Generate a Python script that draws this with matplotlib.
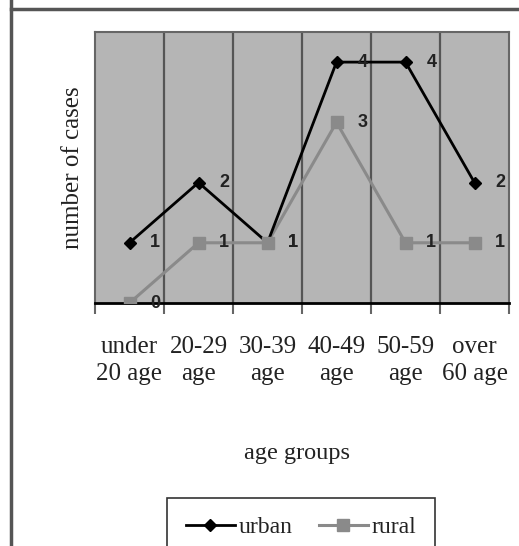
import matplotlib
matplotlib.use("Agg")
import matplotlib.pyplot as plt
from matplotlib.lines import Line2D
import numpy as np

# data
age_groups = ["under\n20 age", "20-29\nage", "30-39\nage", "40-49\nage", "50-59\nage", "over\n60 age"]
urban = [1, 2, 1, 4, 4, 2]
rural = [0, 1, 1, 3, 1, 1]

serif = ["Liberation Serif", "DejaVu Serif"]
txt_col = "#222222"

fig = plt.figure(figsize=(5.19, 5.46), dpi=100)
ax = fig.add_axes([95 / 519, 1 - 303 / 546, (509 - 95) / 519, (303 - 32) / 546])
ax.set_facecolor("#b5b5b5")

x = np.arange(len(age_groups))
ax.set_xlim(-0.5, len(age_groups) - 0.5)
ax.set_ylim(0, 4.5)

# category separators
for b in np.arange(0.5, len(age_groups) - 0.5, 1):
    ax.axvline(b, color="#555555", lw=1.6, zorder=1)

# series
ax.plot(x, rural, color="#8a8a8a", lw=2.2, zorder=2)
ax.plot(x, urban, color="black", lw=2.0, marker="D", markersize=6, zorder=3)
ax.plot(x, rural, color="#8a8a8a", lw=0, marker="s", markersize=8, zorder=4)

for series in (urban, rural):
    for xi, v in zip(x, series):
        ax.annotate(str(v), (xi, v), xytext=(15, 0), textcoords="offset points",
                    ha="left", va="center", fontsize=13, fontweight="bold",
                    family=["Liberation Sans", "DejaVu Sans"], color="#222222", zorder=5)

# axes frame
for s in ["top", "left", "right"]:
    ax.spines[s].set_color("#666666")
    ax.spines[s].set_linewidth(1.5)
ax.spines["bottom"].set_color("black")
ax.spines["bottom"].set_linewidth(2)

ax.set_yticks([])
ax.set_xticks(x)
ax.set_xticklabels(age_groups, family=serif, fontsize=18, color=txt_col, linespacing=1.3)
ax.tick_params(axis="x", which="major", length=0, pad=24)
ax.set_xticks(np.arange(-0.5, len(age_groups), 1), minor=True)
ax.tick_params(axis="x", which="minor", length=8, width=1.5, color="#666666")

ax.set_ylabel("number of cases", family=serif, fontsize=18, color=txt_col, labelpad=8)
fig.text(297 / 519, 1 - 453 / 546, "age groups", family=serif, fontsize=17.5,
         color=txt_col, ha="center", va="center")

handles = [
    Line2D([], [], color="black", lw=2.0, marker="D", markersize=6),
    Line2D([], [], color="#8a8a8a", lw=2.2, marker="s", markersize=8),
]
leg = fig.legend(handles, ["urban", "rural"], loc="upper center",
                 bbox_to_anchor=(301 / 519, 1 - 498 / 546), ncol=2,
                 prop={"family": serif, "size": 17}, frameon=True, fancybox=False,
                 edgecolor="black", handlelength=2.1, handletextpad=0.15,
                 columnspacing=1.1, borderpad=0.78, borderaxespad=0)
leg.get_frame().set_linewidth(1.2)
for t in leg.get_texts():
    t.set_color(txt_col)

# outer frame lines of the original figure
fig.add_artist(Line2D([11 / 519, 11 / 519], [0, 1], transform=fig.transFigure,
                      color="#555555", lw=2.5))
fig.add_artist(Line2D([11 / 519, 1], [1 - 9 / 546, 1 - 9 / 546], transform=fig.transFigure,
                      color="#555555", lw=2.5))

fig.savefig("out.png", dpi=100)
